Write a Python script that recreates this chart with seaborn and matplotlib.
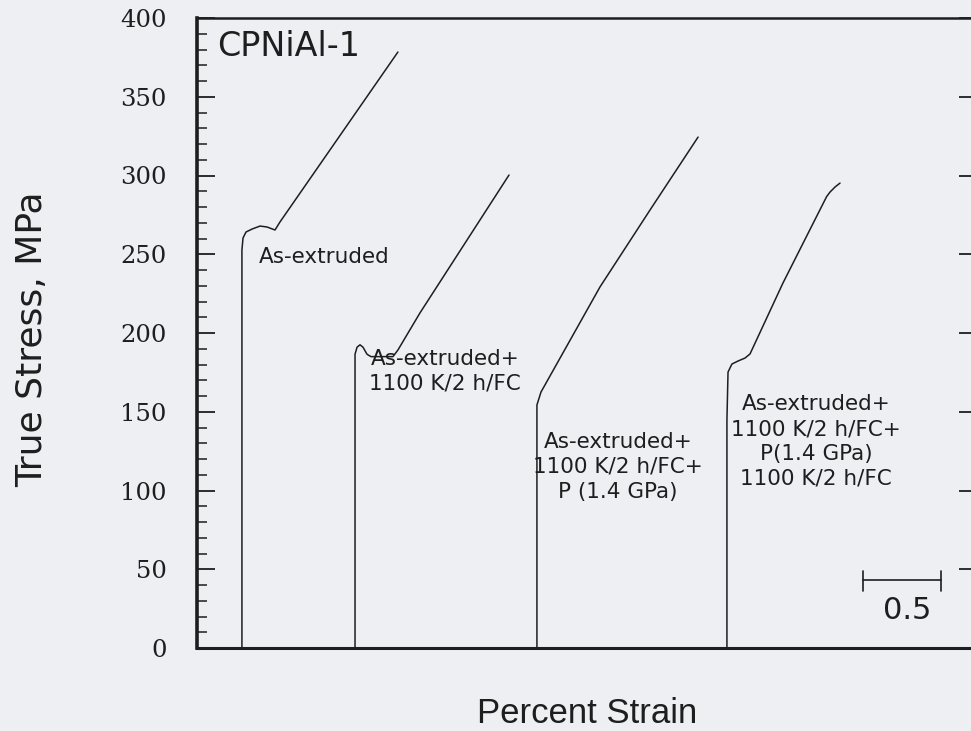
import numpy as np
import pandas as pd
import matplotlib
matplotlib.use("Agg")
import matplotlib.pyplot as plt
from matplotlib.ticker import MultipleLocator
import seaborn as sns

# ---- data (percent strain, true stress MPa) ----
c1_strain = [0.288, 0.288, 0.288, 0.295, 0.314, 0.353, 0.404, 0.449, 0.500, 0.532, 1.288]
c1_stress = [0.0, 144.8, 252.7, 260.3, 264.1, 266.0, 267.9, 267.3, 265.4, 270.5, 378.4]

c2_strain = [1.013, 1.013, 1.013, 1.026, 1.045, 1.064, 1.090, 1.115, 1.256, 1.288, 1.429, 2.000]
c2_stress = [0.0, 144.8, 186.5, 191.0, 192.5, 191.0, 186.5, 185.0, 185.0, 189.2, 212.7, 300.3]

c3_strain = [2.179, 2.179, 2.179, 2.205, 2.583, 2.904, 3.212]
c3_stress = [0.0, 144.8, 154.3, 162.5, 229.2, 278.1, 324.4]

c4_strain = [3.397, 3.397, 3.404, 3.429, 3.468, 3.513, 3.545, 3.756, 4.036, 4.058, 4.090, 4.122]
c4_stress = [0.0, 144.8, 175.2, 180.3, 182.2, 184.1, 186.7, 231.7, 286.6, 289.5, 292.7, 295.2]

curve_names = ["As-extruded",
               "As-extruded+\n1100 K/2 h/FC",
               "As-extruded+\n1100 K/2 h/FC+\nP (1.4 GPa)",
               "As-extruded+\n1100 K/2 h/FC+\nP(1.4 GPa)\n1100 K/2 h/FC"]
label_x = [0.814, 1.59, 2.70, 3.97]
label_y = [248.3, 175.5, 115.0, 131.0]

y_ticks = [0, 50, 100, 150, 200, 250, 300, 350, 400]
scale_bar_x = [4.27, 4.77]
scale_bar_y = 43.0
scale_text = "0.5"
panel_title = "CPNiAl-1"

frames = []
for name, xs, ys in zip(curve_names,
                        [c1_strain, c2_strain, c3_strain, c4_strain],
                        [c1_stress, c2_stress, c3_stress, c4_stress]):
    frames.append(pd.DataFrame({"strain": xs, "stress": ys, "specimen": name}))
df = pd.concat(frames, ignore_index=True)

# ---- figure ----
sns.set_theme(style="ticks")
bg = "#edeff3"
plt.rcParams["font.family"] = ["DejaVu Sans"]
fig = plt.figure(figsize=(9.71, 7.31), dpi=100, facecolor=bg)
ax = fig.add_axes([197/971, 83/731, 780/971, 630/731])
ax.set_facecolor(bg)

ink = "#1e1e1e"
for name in curve_names:
    sub = df[df["specimen"] == name]
    sns.lineplot(data=sub, x="strain", y="stress", ax=ax, sort=False,
                 estimator=None, color=ink, linewidth=1.1, legend=False)

ax.set_xlim(0, 5.0)
ax.set_ylim(0, 400)
ax.set_xticks([])
ax.set_yticks(y_ticks)
ax.set_yticklabels([str(v) for v in y_ticks], family="DejaVu Serif", fontsize=17.5, color=ink)
ax.yaxis.set_minor_locator(MultipleLocator(10))
ax.tick_params(axis="y", which="major", direction="in", length=13, width=1.3,
               pad=22, color=ink, left=True, right=True)
ax.tick_params(axis="y", which="minor", direction="in", length=7, width=1.1,
               color=ink, left=True, right=False)

for side, lw in [("left", 2.6), ("bottom", 2.2), ("top", 1.8), ("right", 1.8)]:
    ax.spines[side].set_visible(True)
    ax.spines[side].set_linewidth(lw)
    ax.spines[side].set_color(ink)

ax.set_xlabel("Percent Strain", family="Liberation Sans", fontsize=25, color=ink,
              labelpad=35)
ax.set_ylabel("True Stress, MPa", fontsize=26, color=ink)
ax.yaxis.set_label_coords(-0.189, 0.49)

# labels
for txt, lx, ly in zip(curve_names, label_x, label_y):
    ax.text(lx, ly, txt, ha="center", va="center", fontsize=15.5, color=ink,
            multialignment="center", linespacing=1.3)

ax.text(0.128, 382.0, panel_title, ha="left", va="center", fontsize=24, color=ink)

# scale bar
ax.plot(scale_bar_x, [scale_bar_y, scale_bar_y], color=ink, lw=1.2)
for sx in scale_bar_x:
    ax.plot([sx, sx], [scale_bar_y - 7, scale_bar_y + 6], color=ink, lw=1.2)
ax.text(np.mean(scale_bar_x) + 0.03, scale_bar_y - 10, scale_text, ha="center", va="top",
        fontsize=22, color=ink)

fig.savefig("out.png", dpi=100, facecolor=bg)
